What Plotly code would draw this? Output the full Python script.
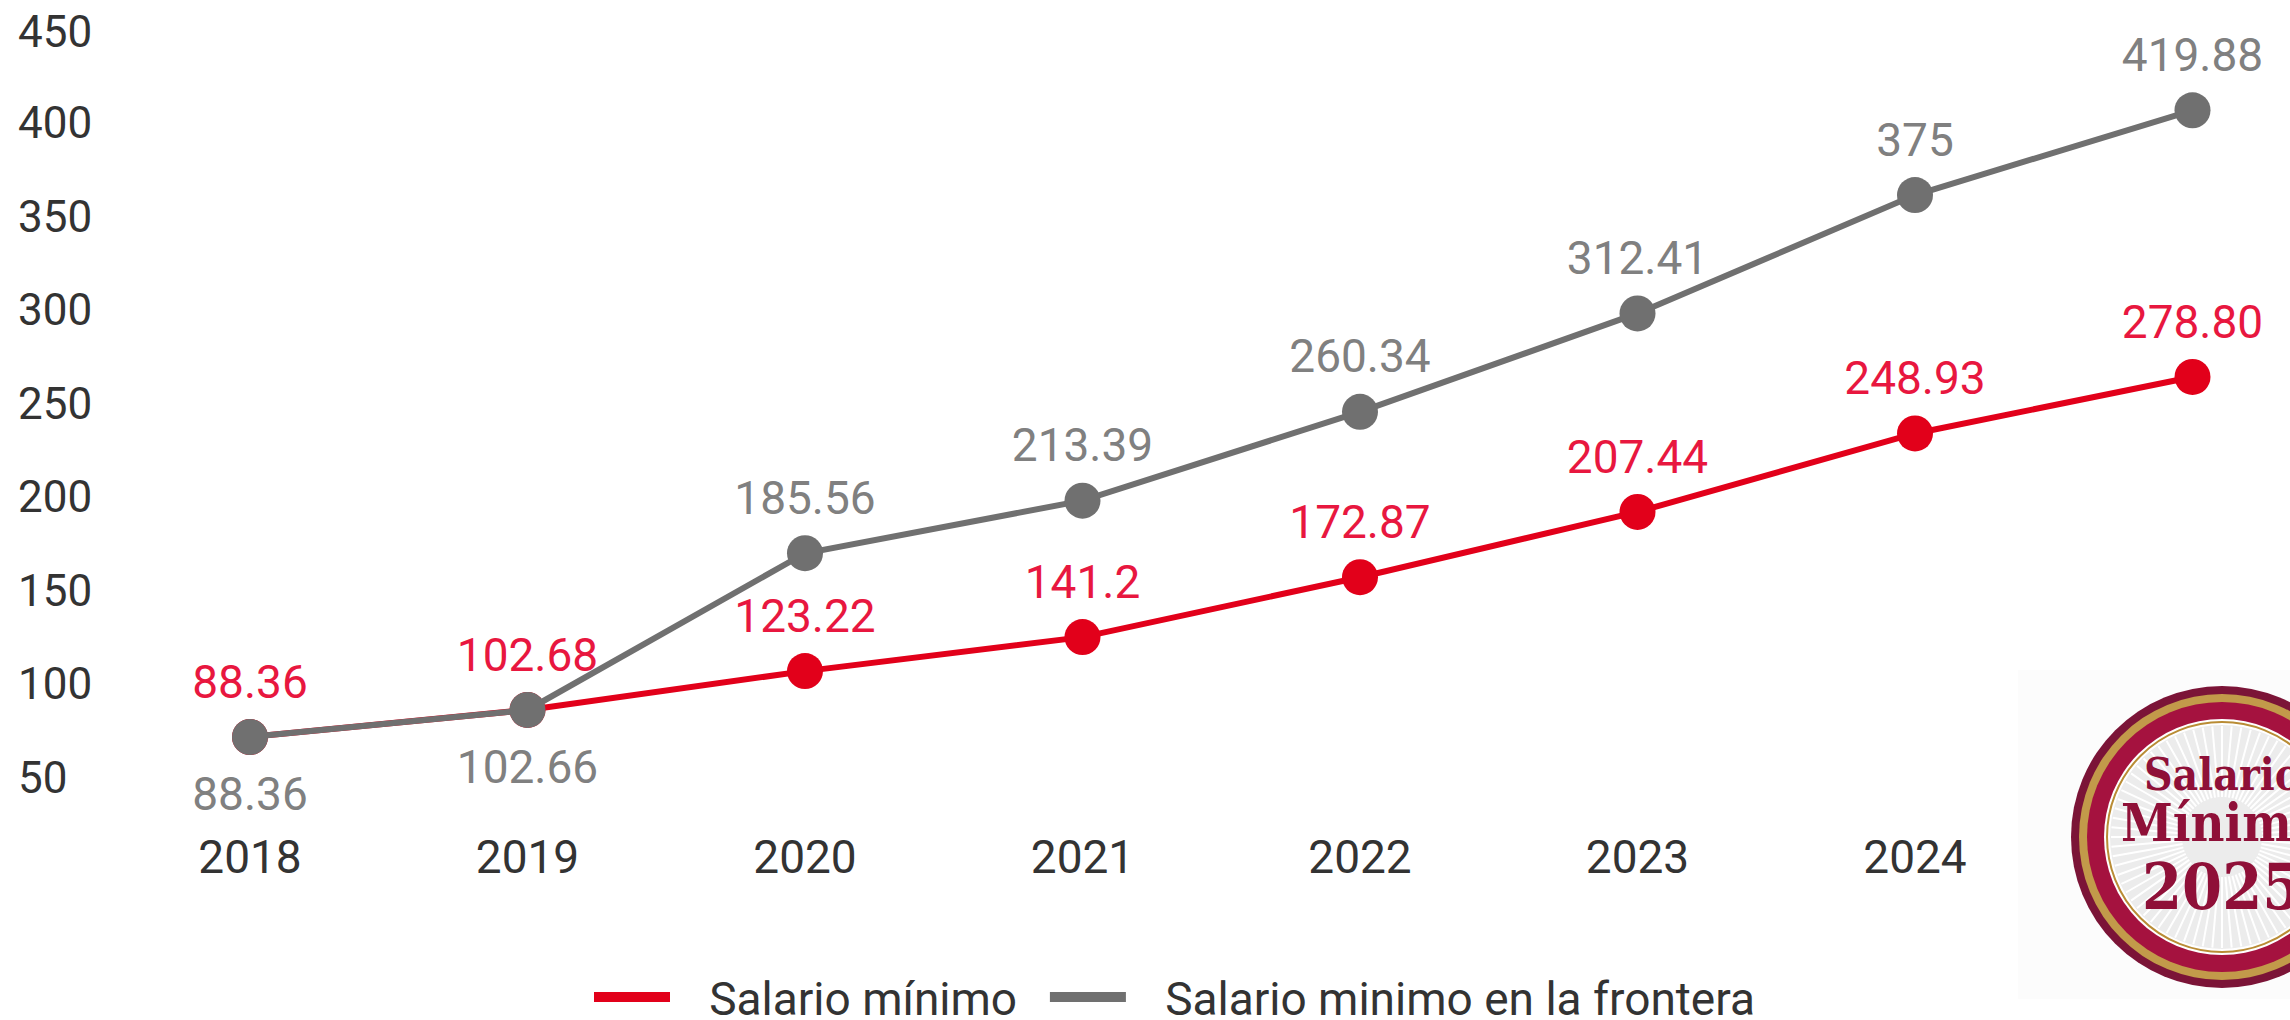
import math
import plotly.graph_objects as go

years = ["2018", "2019", "2020", "2021", "2022", "2023", "2024", "2025"]
salario_minimo = [88.36, 102.68, 123.22, 141.2, 172.87, 207.44, 248.93, 278.80]
salario_frontera = [88.36, 102.66, 185.56, 213.39, 260.34, 312.41, 375, 419.88]
labels_minimo = ["88.36", "102.68", "123.22", "141.2", "172.87", "207.44", "248.93", "278.80"]
labels_frontera = ["88.36", "102.66", "185.56", "213.39", "260.34", "312.41", "375", "419.88"]
positions_frontera = ["bottom center", "bottom center"] + ["top center"] * 6
y_tick_text = ["50", "100", "150", "200", "250", "300", "350", "400", "450"]
# In the reference the printed y labels sit about 20 units below the scale the points follow
y_tick_positions = [66.9, 116.4, 165.8, 215.3, 264.7, 314.2, 363.7, 413.1, 461.6]

RED, GRAY = "#e2001a", "#707070"
RED_TXT, GRAY_TXT = "#e8173f", "#808080"
W, H = 2290, 1040
L, T, B = 15, 0, 822
FONT = "Roboto"


def px(x):
    return x / W


def py(y):
    return 1 - y / H


fig = go.Figure()
fig.add_trace(go.Scatter(
    x=years, y=salario_minimo, mode="lines+markers", line=dict(color=RED, width=6),
    marker=dict(color=RED, size=36), showlegend=False, cliponaxis=False))
fig.add_trace(go.Scatter(
    x=years, y=salario_frontera, mode="lines+markers", line=dict(color=GRAY, width=6),
    marker=dict(color=GRAY, size=36), showlegend=False, cliponaxis=False))
# Value labels: unseen markers set how far each label stands from its point
fig.add_trace(go.Scatter(
    x=years, y=salario_minimo, mode="markers+text", text=labels_minimo, textposition="top center",
    textfont=dict(color=RED_TXT, size=46), marker=dict(size=43, opacity=0),
    showlegend=False, cliponaxis=False, hoverinfo="skip"))
fig.add_trace(go.Scatter(
    x=years, y=salario_frontera, mode="markers+text", text=labels_frontera, textposition=positions_frontera,
    textfont=dict(color=GRAY_TXT, size=46),
    marker=dict(size=[60 if p.startswith("bottom") else 43 for p in positions_frontera], opacity=0),
    showlegend=False, cliponaxis=False, hoverinfo="skip"))
NB = "\u00a0\u00a0\u00a0"
for name, color in ((NB + "Salario mínimo\u00a0\u00a0", RED), (NB + "Salario minimo en la frontera", GRAY)):
    fig.add_trace(go.Scatter(x=[None], y=[None], mode="lines", name=name,
                             line=dict(color=color, width=13)))

# Badge
CX, CY = 2222, 837
shapes = [dict(type="rect", xref="paper", yref="paper", x0=px(2018), x1=px(2290), y0=py(999), y1=py(670),
               fillcolor="#fcfcfc", line_width=0, layer="below")]


def disc(r, fill, line=None, lw=0):
    return dict(type="circle", xref="paper", yref="paper", x0=px(CX - r), x1=px(CX + r),
                y0=py(CY + r), y1=py(CY - r), fillcolor=fill,
                line=dict(color=line or fill, width=lw))


shapes += [disc(151, "#7b1437"), disc(143, "#c29a4a"), disc(135, "#a5123f"),
           disc(118, "#ffffff"), disc(115, "#ffffff", "#b98c35", 2), disc(112, "#ececec")]
rays = []
for i in range(72):
    a = i * math.pi / 36
    rays.append(f"M{px(CX + 40 * math.cos(a))},{py(CY + 40 * math.sin(a))}"
                f"L{px(CX + 111 * math.cos(a))},{py(CY + 111 * math.sin(a))}")
shapes.append(dict(type="path", xref="paper", yref="paper", path="".join(rays),
                   line=dict(color="#ffffff", width=2)))

badge_text = [("Salario", 774, 44), ("Mínimo", 822, 52), ("2025", 886, 64)]
annotations = [dict(text=t, xref="paper", yref="paper", x=px(CX), y=py(y), xanchor="center", yanchor="middle",
                    showarrow=False,
                    font=dict(family="DejaVu Serif Condensed, DejaVu Serif", size=s, color="#8f1038", weight="bold"))
               for t, y, s in badge_text]

fig.update_layout(
    width=W, height=H, autosize=False,
    margin=dict(l=0, r=0, t=0, b=0, pad=0),
    paper_bgcolor="white", plot_bgcolor="rgba(0,0,0,0)",
    font=dict(family=FONT, size=46, color="#333333"),
    shapes=shapes, annotations=annotations,
    xaxis=dict(type="category", domain=[L / W, 1], range=[(L - 250) / 277.5, (W - 250) / 277.5],
               showgrid=False, zeroline=False, showline=False, ticks="", ticklabelstandoff=4,
               tickfont=dict(size=46, color="#333333")),
    yaxis=dict(domain=[py(B), py(T)], range=[43.4, 478.2], tickmode="array", tickvals=y_tick_positions,
               ticktext=y_tick_text, ticklabelposition="inside", showgrid=False, zeroline=False,
               showline=False, ticks="", tickfont=dict(size=44, color="#333333")),
    legend=dict(orientation="h", x=px(589), y=py(997), xanchor="left", yanchor="middle",
                itemwidth=76, font=dict(size=46, color="#333333"), bgcolor="rgba(0,0,0,0)"),
)
fig.write_html("out.html", config=dict(displayModeBar=False),
               post_script="document.documentElement.style.overflow='hidden';document.body.style.overflow='hidden';document.body.style.margin='0';")
